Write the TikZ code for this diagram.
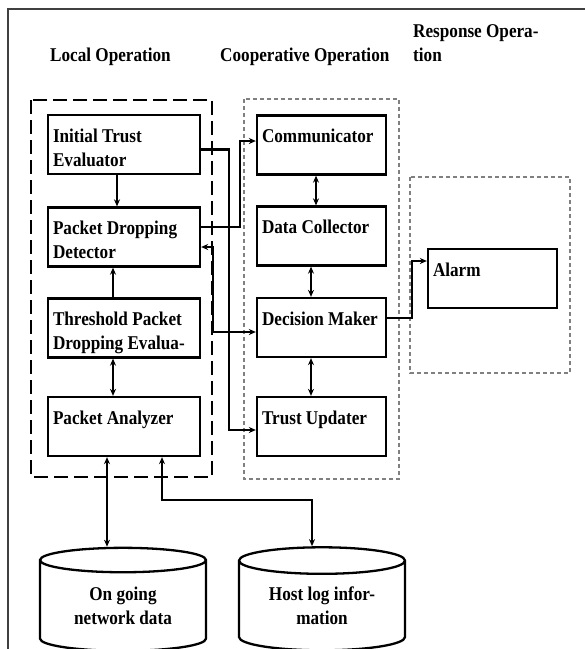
\documentclass[tikz,border=0pt]{standalone}
\usepackage{fontspec}
\setmainfont{Liberation Serif}[FakeStretch=0.88]
\usetikzlibrary{positioning, shapes.geometric, arrows.meta}

\newcommand{\boxlines}[2]{\parbox[c][53pt][t]{#1}{\raggedright\rule{0pt}{24pt}#2}}

\tikzset{
  unit/.style={draw, line width=2.3pt, inner xsep=5pt, inner ysep=3pt},
  link/.style={line width=2.2pt, -{Stealth[length=7pt,width=6pt]}},
  dlink/.style={line width=2.2pt, {Stealth[length=7pt,width=6pt]}-{Stealth[length=7pt,width=6pt]}},
  store/.style={draw, line width=2.3pt, cylinder, shape border rotate=90, aspect=0.25, minimum width=166pt, minimum height=103pt, align=center, inner sep=0pt},
  zone/.style={gray, line width=1.3pt, dash pattern=on 4pt off 3pt}
}

\begin{document}
\begin{tikzpicture}[x=1pt, y=-1pt, font=\fontsize{19.5}{24}\selectfont\bfseries]
\useasboundingbox (0,0) rectangle (585,649);
\draw[line width=2.2pt, darkgray] (8,649) -- (8,9) -- (585,9);

% headers
\node[anchor=base west, inner sep=0pt] (hlocal) at (50,61) {Local Operation};
\node[anchor=base west, inner sep=0pt] (hcoop) at (220,61) {Cooperative Operation};
\node[anchor=base west, inner sep=0pt, align=left] (hresp) at (413,61) {Response Opera-\\tion};

% operation zones
\draw[line width=2.3pt, dash pattern=on 14pt off 6pt] (31,100) rectangle (212,477);
\draw[zone] (244,99) rectangle (399,479);
\draw[zone] (410,177) rectangle (570,373);

% local operation
\node[unit] (ite) at (124,144.5) {\boxlines{142pt}{Initial Trust\\Evaluator}};
\node[unit] (pdd) at (124,237) {\boxlines{142pt}{Packet Dropping\\Detector}};
\node[unit] (tpd) at (124,328) {\boxlines{142pt}{Threshold Packet\\Dropping Evalua-}};
\node[unit] (pa) at (124,426.5) {\boxlines{142pt}{Packet Analyzer}};

% cooperative operation
\node[unit] (comm) at (321.5,145) {\boxlines{119pt}{Communicator}};
\node[unit] (dc) at (321.5,236) {\boxlines{119pt}{Data Collector}};
\node[unit] (dm) at (321.5,327.5) {\boxlines{119pt}{Decision Maker}};
\node[unit] (tu) at (321.5,426.5) {\boxlines{119pt}{Trust Updater}};

% response operation
\node[unit] (alarm) at (492.5,278.5) {\boxlines{119pt}{Alarm}};

% data stores
\node[store] (ongoing) at (123,606) {On going\\network data};
\node[store] (hostlog) at (322,606) {Host log infor-\\mation};

% links
\draw[link] ([xshift=-7pt]ite.south) -- ([xshift=-7pt]pdd.north);
\draw[link] ([xshift=-11pt]tpd.north) -- ([xshift=-11pt]pdd.south);
\draw[dlink] ([xshift=-11pt]tpd.south) -- ([xshift=-11pt]pa.north);
\draw[dlink] ([xshift=-17pt]pa.south) -- ([xshift=-16pt]ongoing.north);
\draw[dlink] ([xshift=38pt]pa.south) |- (312,500) -- ([xshift=-10pt]hostlog.north);

\draw[link] ([yshift=-5pt]ite.east) -- ++(28,0) |- ([yshift=-3.5pt]tu.west);
\draw[link] ([yshift=10pt]pdd.east) -- ++(39,0) |- ([yshift=4pt]comm.west);
\draw[dlink] ([yshift=-10pt]pdd.east) -- ++(12,0) |- ([yshift=-4.5pt]dm.west);

\draw[dlink] ([xshift=-5.5pt]comm.south) -- ([xshift=-5.5pt]dc.north);
\draw[dlink] ([xshift=-10.5pt]dc.south) -- ([xshift=-10.5pt]dm.north);
\draw[dlink] ([xshift=-10.5pt]dm.south) -- ([xshift=-10.5pt]tu.north);
\draw[link] ([yshift=9.5pt]dm.east) -- ++(25,0) |- ([yshift=17.5pt]alarm.west);
\end{tikzpicture}
\end{document}
